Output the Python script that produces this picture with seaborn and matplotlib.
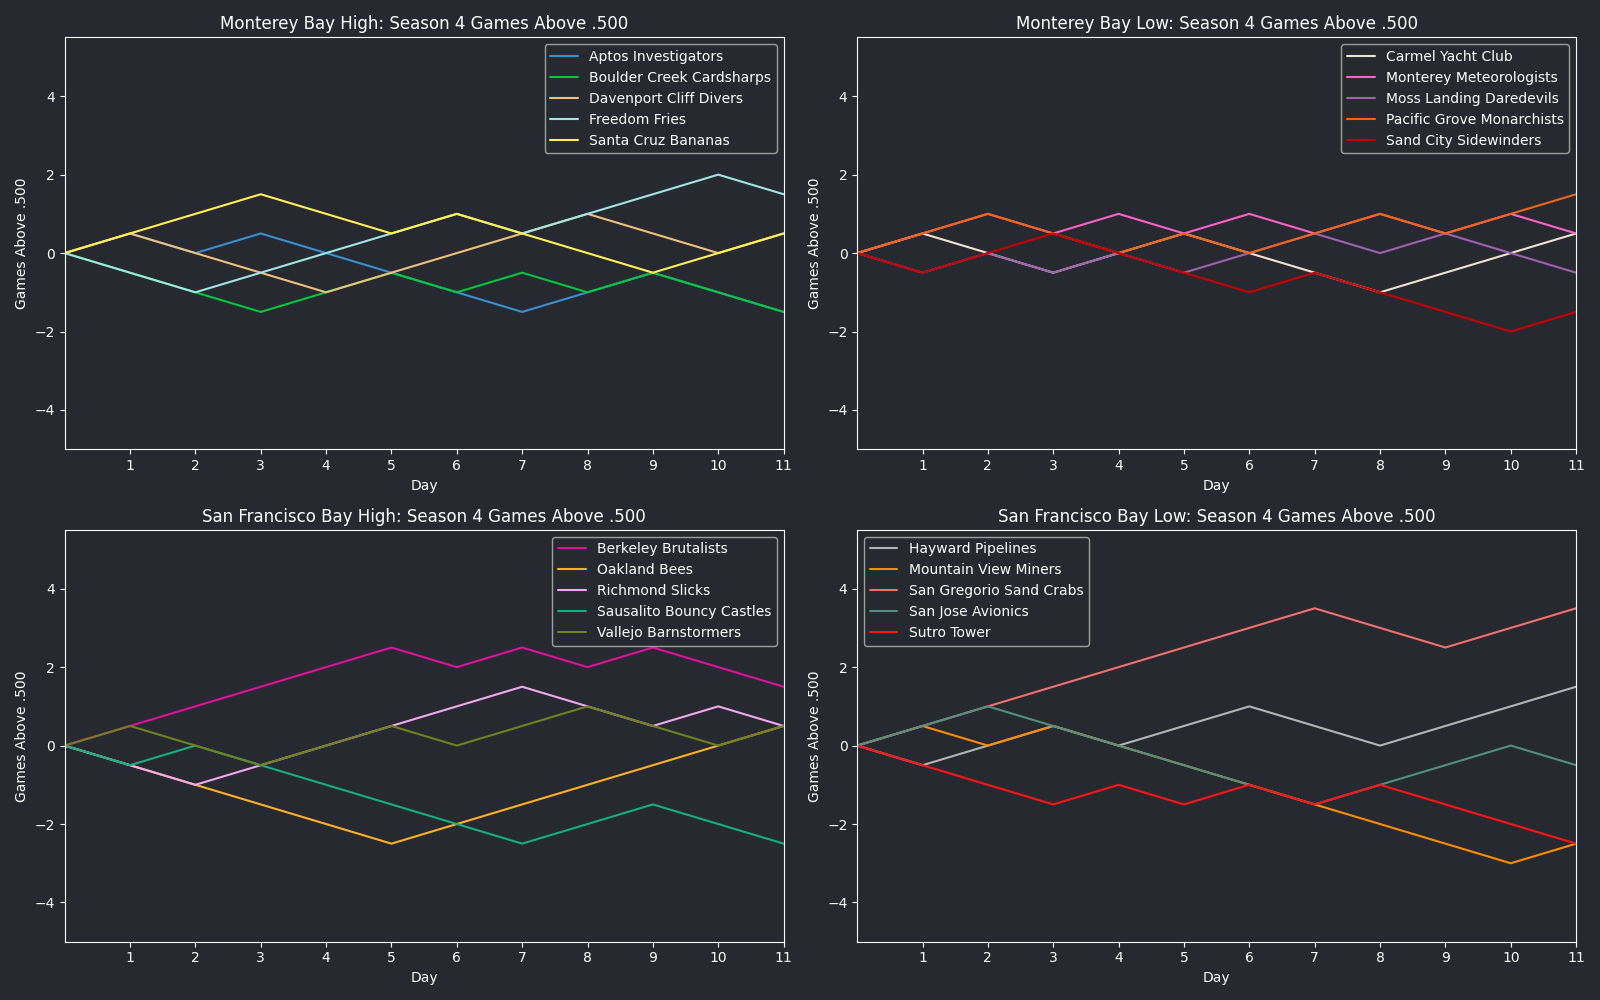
import numpy as np
import pandas as pd
import seaborn as sns
import matplotlib
matplotlib.use('Agg')
import matplotlib.pyplot as plt

days = list(range(12))

# Monterey Bay High
mb_high_teams = ['Aptos Investigators', 'Boulder Creek Cardsharps', 'Davenport Cliff Divers',
                 'Freedom Fries', 'Santa Cruz Bananas']
mb_high_colors = ['#3a8fd0', '#00c83c', '#f0c078', '#a0e4e4', '#fff050']
mb_high_vals = [
    [0, 0.5, 0, 0.5, 0, -0.5, -1, -1.5, -1, -0.5, -1, -1.5],
    [0, -0.5, -1, -1.5, -1, -0.5, -1, -0.5, -1, -0.5, -1, -1.5],
    [0, 0.5, 0, -0.5, -1, -0.5, 0, 0.5, 1, 0.5, 0, 0.5],
    [0, -0.5, -1, -0.5, 0, 0.5, 1, 0.5, 1, 1.5, 2, 1.5],
    [0, 0.5, 1, 1.5, 1, 0.5, 1, 0.5, 0, -0.5, 0, 0.5],
]

# Monterey Bay Low
mb_low_teams = ['Carmel Yacht Club', 'Monterey Meteorologists', 'Moss Landing Daredevils',
                'Pacific Grove Monarchists', 'Sand City Sidewinders']
mb_low_colors = ['#f0e2cc', '#ff60c8', '#a060b0', '#f06414', '#c80000']
mb_low_vals = [
    [0, 0.5, 0, -0.5, 0, 0.5, 0, -0.5, -1, -0.5, 0, 0.5],
    [0, 0.5, 1, 0.5, 1, 0.5, 1, 0.5, 1, 0.5, 1, 0.5],
    [0, -0.5, 0, -0.5, 0, -0.5, 0, 0.5, 0, 0.5, 0, -0.5],
    [0, 0.5, 1, 0.5, 0, 0.5, 0, 0.5, 1, 0.5, 1, 1.5],
    [0, -0.5, 0, 0.5, 0, -0.5, -1, -0.5, -1, -1.5, -2, -1.5],
]

# San Francisco Bay High
sf_high_teams = ['Berkeley Brutalists', 'Oakland Bees', 'Richmond Slicks',
                 'Sausalito Bouncy Castles', 'Vallejo Barnstormers']
sf_high_colors = ['#e0109a', '#ffb020', '#f0a8f0', '#10b080', '#708020']
sf_high_vals = [
    [0, 0.5, 1, 1.5, 2, 2.5, 2, 2.5, 2, 2.5, 2, 1.5],
    [0, -0.5, -1, -1.5, -2, -2.5, -2, -1.5, -1, -0.5, 0, 0.5],
    [0, -0.5, -1, -0.5, 0, 0.5, 1, 1.5, 1, 0.5, 1, 0.5],
    [0, -0.5, 0, -0.5, -1, -1.5, -2, -2.5, -2, -1.5, -2, -2.5],
    [0, 0.5, 0, -0.5, 0, 0.5, 0, 0.5, 1, 0.5, 0, 0.5],
]

# San Francisco Bay Low
sf_low_teams = ['Hayward Pipelines', 'Mountain View Miners', 'San Gregorio Sand Crabs',
                'San Jose Avionics', 'Sutro Tower']
sf_low_colors = ['#b4b4b4', '#ff8c00', '#f07070', '#509080', '#ff1414']
sf_low_vals = [
    [0, -0.5, 0, 0.5, 0, 0.5, 1, 0.5, 0, 0.5, 1, 1.5],
    [0, 0.5, 0, 0.5, 0, -0.5, -1, -1.5, -2, -2.5, -3, -2.5],
    [0, 0.5, 1, 1.5, 2, 2.5, 3, 3.5, 3, 2.5, 3, 3.5],
    [0, 0.5, 1, 0.5, 0, -0.5, -1, -1.5, -1, -0.5, 0, -0.5],
    [0, -0.5, -1, -1.5, -1, -1.5, -1, -1.5, -1, -1.5, -2, -2.5],
]

bg = '#262a30'
sns.set_style('dark')
plt.rcParams.update({
    'figure.facecolor': bg,
    'axes.facecolor': bg,
    'axes.edgecolor': 'white',
    'axes.labelcolor': 'white',
    'text.color': 'white',
    'xtick.color': 'white',
    'ytick.color': 'white',
    'axes.grid': False,
    'xtick.bottom': True,
    'ytick.left': True,
})
plt.rcParams['font.family'] = ['DejaVu Sans']


def long_form(teams, vals):
    rows = []
    for team, v in zip(teams, vals):
        for d, g in zip(days, v):
            rows.append({'Day': d, 'Games Above .500': g, 'Team': team})
    return pd.DataFrame(rows)


panels = [
    ('Monterey Bay High', mb_high_teams, mb_high_colors, mb_high_vals, 'upper right'),
    ('Monterey Bay Low', mb_low_teams, mb_low_colors, mb_low_vals, 'upper right'),
    ('San Francisco Bay High', sf_high_teams, sf_high_colors, sf_high_vals, 'upper right'),
    ('San Francisco Bay Low', sf_low_teams, sf_low_colors, sf_low_vals, 'upper left'),
]

fig, axes = plt.subplots(2, 2, figsize=(16, 10), dpi=100)
for ax, (name, teams, colors, vals, loc) in zip(axes.flat, panels):
    df = long_form(teams, vals)
    sns.lineplot(data=df, x='Day', y='Games Above .500', hue='Team',
                 palette=dict(zip(teams, colors)), hue_order=teams, ax=ax, linewidth=1.5)
    ax.set_title(f'{name}: Season 4 Games Above .500', fontsize=12, color='white')
    ax.set_xlim(0, 11)
    ax.set_ylim(-5, 5.5)
    ax.set_xticks(range(1, 12))
    ax.set_yticks([-4, -2, 0, 2, 4])
    for s in ax.spines.values():
        s.set_color('white')
        s.set_visible(True)
    leg = ax.legend(loc=loc, facecolor=bg, edgecolor='#aaaaaa', framealpha=0.9)
    for t in leg.get_texts():
        t.set_color('white')

plt.tight_layout()
plt.savefig('out.png', facecolor=bg)
